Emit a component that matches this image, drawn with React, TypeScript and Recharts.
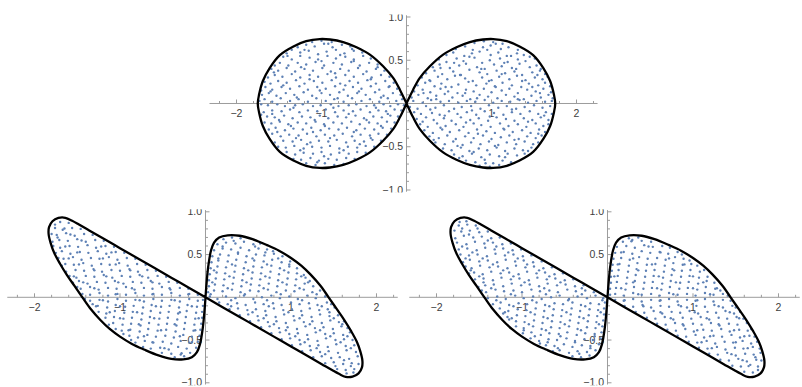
import React from "react";
import { ScatterChart, Scatter, XAxis, YAxis } from "recharts";

type Pt = [number, number];

// Figure-eight outline, traced once around (start/end at the right tip)
const upperOutline: Pt[] = [
  [1.75, 0], [1.735, -0.1], [1.69, -0.26], [1.61, -0.41], [1.49, -0.56], [1.33, -0.66], [1.18, -0.72],
  [1.02, -0.745], [0.9, -0.74], [0.745, -0.71], [0.588, -0.65], [0.431, -0.565], [0.275, -0.43],
  [0.157, -0.296], [0.078, -0.16], [0, 0],
  [-0.078, 0.16], [-0.157, 0.296], [-0.275, 0.43], [-0.431, 0.565], [-0.588, 0.65], [-0.745, 0.71],
  [-0.9, 0.74], [-1.02, 0.745], [-1.18, 0.72], [-1.33, 0.66], [-1.49, 0.56], [-1.61, 0.41], [-1.69, 0.26],
  [-1.735, 0.1], [-1.75, 0],
  [-1.735, -0.1], [-1.69, -0.26], [-1.61, -0.41], [-1.49, -0.56], [-1.33, -0.66], [-1.18, -0.72],
  [-1.02, -0.745], [-0.9, -0.74], [-0.745, -0.71], [-0.588, -0.65], [-0.431, -0.565], [-0.275, -0.43],
  [-0.157, -0.296], [-0.078, -0.16], [0, 0],
  [0.078, 0.16], [0.157, 0.296], [0.275, 0.43], [0.431, 0.565], [0.588, 0.65], [0.745, 0.71], [0.9, 0.74],
  [1.02, 0.745], [1.18, 0.72], [1.33, 0.66], [1.49, 0.56], [1.61, 0.41], [1.69, 0.26], [1.735, 0.1], [1.75, 0],
];

// Sheared figure-eight used by both lower plots
const shearedOutline: Pt[] = [
  [1.44, 0], [1.53, -0.13], [1.62, -0.26], [1.7, -0.39], [1.77, -0.52], [1.81, -0.63], [1.835, -0.74],
  [1.83, -0.82], [1.79, -0.89], [1.72, -0.928], [1.64, -0.93], [1.56, -0.895], [1.48, -0.851], [1.36, -0.782],
  [1.2, -0.69], [1.0, -0.575], [0.8, -0.46], [0.6, -0.345], [0.4, -0.23], [0.2, -0.115], [0, 0],
  [-0.2, 0.115], [-0.4, 0.23], [-0.6, 0.345], [-0.8, 0.46], [-1.0, 0.575], [-1.2, 0.69], [-1.36, 0.782],
  [-1.48, 0.851], [-1.56, 0.895], [-1.64, 0.93], [-1.72, 0.928], [-1.79, 0.89], [-1.83, 0.82], [-1.835, 0.74],
  [-1.81, 0.63], [-1.77, 0.52], [-1.7, 0.39], [-1.62, 0.26], [-1.53, 0.13], [-1.44, 0], [-1.34, -0.14],
  [-1.23, -0.265], [-1.12, -0.37], [-1.0, -0.46], [-0.86, -0.545], [-0.72, -0.61], [-0.55, -0.68],
  [-0.4, -0.72], [-0.26, -0.725], [-0.16, -0.7], [-0.1, -0.64], [-0.065, -0.55], [-0.032, -0.36],
  [-0.012, -0.16], [0, 0],
  [0.012, 0.16], [0.032, 0.36], [0.065, 0.55], [0.1, 0.64], [0.16, 0.7], [0.26, 0.725], [0.4, 0.72],
  [0.55, 0.68], [0.72, 0.61], [0.86, 0.545], [1.0, 0.46], [1.12, 0.37], [1.23, 0.265], [1.34, 0.14], [1.44, 0],
];

const upperDots: Pt[] = [
  [0.8,0.7],[0.91,0.72],[1.02,0.71],[1.13,0.69],
  [0.58,0.63],[0.69,0.66],[0.78,0.62],[0.9,0.65],[0.99,0.67],[1.11,0.63],[1.2,0.65],[1.31,0.62],
  [0.47,0.56],[0.55,0.59],[0.68,0.55],[0.77,0.58],[0.86,0.6],[0.99,0.56],[1.08,0.59],[1.18,0.55],[1.3,0.58],[1.38,0.56],[1.45,0.54],
  [0.38,0.51],[0.47,0.48],[0.59,0.52],[0.67,0.49],[0.8,0.53],[0.89,0.47],[0.98,0.5],[1.1,0.52],[1.19,0.48],[1.31,0.51],[1.4,0.49],[1.51,0.52],
  [0.31,0.42],[0.39,0.45],[0.51,0.41],[0.62,0.44],[0.7,0.46],[0.83,0.42],[0.92,0.4],[1.03,0.45],[1.12,0.43],[1.24,0.41],[1.33,0.46],[1.45,0.42],[1.53,0.44],[1.58,0.4],
  [0.23,0.35],[0.33,0.38],[0.42,0.34],[0.55,0.37],[0.64,0.33],[0.74,0.39],[0.86,0.36],[0.95,0.34],[1.06,0.38],[1.16,0.35],[1.27,0.37],[1.36,0.33],[1.48,0.36],[1.57,0.38],[1.63,0.34],
  [0.18,0.3],[0.27,0.27],[0.37,0.31],[0.48,0.28],[0.57,0.32],[0.69,0.29],[0.78,0.26],[0.89,0.3],[1.0,0.27],[1.09,0.31],[1.21,0.28],[1.3,0.32],[1.4,0.27],[1.51,0.3],[1.6,0.28],[1.66,0.31],
  [0.13,0.21],[0.22,0.24],[0.33,0.2],[0.41,0.23],[0.53,0.19],[0.61,0.22],[0.73,0.25],[0.82,0.21],[0.94,0.23],[1.04,0.2],[1.13,0.24],[1.24,0.21],[1.35,0.19],[1.44,0.23],[1.55,0.21],[1.63,0.24],[1.69,0.2],
  [0.09,0.14],[0.19,0.16],[0.28,0.13],[0.4,0.17],[0.49,0.14],[0.6,0.12],[0.7,0.16],[0.79,0.14],[0.91,0.17],[1.0,0.13],[1.12,0.15],[1.21,0.17],[1.31,0.12],[1.42,0.16],[1.52,0.14],[1.61,0.17],[1.7,0.13],
  [0.06,0.07],[0.14,0.1],[0.25,0.06],[0.35,0.09],[0.45,0.11],[0.54,0.07],[0.66,0.09],[0.75,0.05],[0.86,0.1],[0.96,0.08],[1.07,0.06],[1.17,0.1],[1.27,0.08],[1.38,0.05],[1.47,0.09],[1.58,0.07],[1.67,0.1],[1.72,0.06],
  [0.08,0.03],[0.19,0.01],[0.29,0.04],[0.4,0.02],[0.5,0.03],[0.61,0.01],[0.71,0.03],[0.81,0.02],[0.92,0.04],[1.02,0.01],[1.12,0.03],[1.22,0.02],[1.33,0.04],[1.43,0.01],[1.53,0.03],[1.63,0.02],[1.71,0.03],
  [0.04,-0.04],[0.13,-0.06],[0.23,-0.03],[0.34,-0.05],[0.44,-0.02],[0.56,-0.06],[0.65,-0.04],[0.76,-0.03],[0.87,-0.06],[0.97,-0.02],[1.08,-0.05],[1.18,-0.03],[1.29,-0.06],[1.39,-0.04],[1.5,-0.02],[1.6,-0.05],[1.69,-0.03],
  [0.09,-0.1],[0.17,-0.12],[0.3,-0.11],[0.39,-0.13],[0.5,-0.09],[0.6,-0.12],[0.71,-0.1],[0.82,-0.13],[0.92,-0.09],[1.03,-0.11],[1.14,-0.13],[1.24,-0.1],[1.34,-0.12],[1.45,-0.09],[1.55,-0.12],[1.64,-0.1],[1.71,-0.12],
  [0.12,-0.18],[0.23,-0.16],[0.32,-0.19],[0.44,-0.17],[0.53,-0.2],[0.64,-0.16],[0.75,-0.19],[0.85,-0.17],[0.96,-0.2],[1.06,-0.16],[1.17,-0.18],[1.27,-0.2],[1.38,-0.17],[1.48,-0.19],[1.58,-0.16],[1.67,-0.19],
  [0.16,-0.24],[0.25,-0.27],[0.36,-0.23],[0.46,-0.26],[0.58,-0.24],[0.67,-0.27],[0.79,-0.23],[0.88,-0.25],[0.99,-0.27],[1.1,-0.23],[1.2,-0.26],[1.31,-0.24],[1.41,-0.27],[1.52,-0.23],[1.61,-0.26],[1.67,-0.24],
  [0.21,-0.31],[0.31,-0.34],[0.42,-0.3],[0.51,-0.33],[0.62,-0.31],[0.73,-0.34],[0.83,-0.3],[0.94,-0.32],[1.04,-0.34],[1.15,-0.3],[1.25,-0.33],[1.36,-0.31],[1.46,-0.34],[1.56,-0.3],[1.63,-0.33],
  [0.27,-0.38],[0.38,-0.4],[0.48,-0.37],[0.58,-0.41],[0.69,-0.38],[0.79,-0.4],[0.9,-0.37],[1.0,-0.41],[1.11,-0.39],[1.21,-0.37],[1.32,-0.41],[1.42,-0.38],[1.52,-0.4],[1.59,-0.37],
  [0.34,-0.45],[0.45,-0.47],[0.55,-0.44],[0.66,-0.48],[0.76,-0.45],[0.87,-0.47],[0.97,-0.44],[1.08,-0.48],[1.18,-0.45],[1.29,-0.47],[1.39,-0.44],[1.49,-0.47],[1.55,-0.45],
  [0.43,-0.52],[0.53,-0.54],[0.64,-0.51],[0.74,-0.55],[0.85,-0.52],[0.95,-0.54],[1.06,-0.51],[1.16,-0.55],[1.27,-0.52],[1.37,-0.54],[1.47,-0.51],
  [0.56,-0.59],[0.66,-0.61],[0.77,-0.58],[0.88,-0.62],[0.98,-0.59],[1.09,-0.61],[1.19,-0.58],[1.3,-0.6],[1.39,-0.58],
  [0.7,-0.66],[0.81,-0.68],[0.92,-0.65],[1.02,-0.69],[1.13,-0.66],[1.23,-0.68],
  [0.86,-0.72],[0.98,-0.73],[1.09,-0.71],
  [-0.88,0.71],[-1.0,0.725],[-1.11,0.71],
  [-0.66,0.66],[-0.76,0.68],[-0.87,0.65],[-0.97,0.69],[-1.08,0.66],[-1.18,0.68],[-1.28,0.65],
  [-0.52,0.59],[-0.62,0.61],[-0.73,0.58],[-0.83,0.62],[-0.94,0.6],[-1.04,0.57],[-1.15,0.61],[-1.25,0.59],[-1.35,0.62],[-1.41,0.58],
  [-0.42,0.52],[-0.51,0.55],[-0.62,0.51],[-0.72,0.54],[-0.83,0.52],[-0.93,0.55],[-1.04,0.51],[-1.14,0.53],[-1.25,0.55],[-1.35,0.51],[-1.45,0.54],
  [-0.34,0.45],[-0.44,0.47],[-0.55,0.44],[-0.65,0.48],[-0.76,0.45],[-0.86,0.47],[-0.97,0.44],[-1.07,0.48],[-1.18,0.45],[-1.28,0.47],[-1.39,0.44],[-1.49,0.47],[-1.55,0.44],
  [-0.26,0.38],[-0.36,0.4],[-0.47,0.37],[-0.57,0.41],[-0.68,0.38],[-0.78,0.4],[-0.89,0.37],[-0.99,0.41],[-1.1,0.38],[-1.2,0.4],[-1.31,0.37],[-1.41,0.41],[-1.51,0.38],[-1.59,0.4],
  [-0.2,0.31],[-0.3,0.33],[-0.41,0.3],[-0.51,0.34],[-0.62,0.31],[-0.72,0.33],[-0.83,0.3],[-0.93,0.34],[-1.04,0.31],[-1.14,0.33],[-1.25,0.3],[-1.35,0.34],[-1.46,0.31],[-1.55,0.33],[-1.63,0.3],
  [-0.15,0.24],[-0.25,0.26],[-0.36,0.23],[-0.46,0.27],[-0.57,0.24],[-0.67,0.26],[-0.78,0.23],[-0.88,0.27],[-0.99,0.24],[-1.09,0.26],[-1.2,0.23],[-1.3,0.27],[-1.41,0.24],[-1.51,0.26],[-1.6,0.23],[-1.67,0.25],
  [-0.11,0.17],[-0.21,0.19],[-0.32,0.16],[-0.42,0.2],[-0.53,0.17],[-0.63,0.19],[-0.74,0.16],[-0.84,0.2],[-0.95,0.17],[-1.05,0.19],[-1.16,0.16],[-1.26,0.2],[-1.37,0.17],[-1.47,0.19],[-1.58,0.16],[-1.66,0.19],[-1.71,0.15],
  [-0.07,0.1],[-0.16,0.12],[-0.27,0.09],[-0.37,0.13],[-0.48,0.1],[-0.58,0.12],[-0.69,0.09],[-0.79,0.13],[-0.9,0.1],[-1.0,0.12],[-1.11,0.09],[-1.21,0.13],[-1.32,0.1],[-1.42,0.12],[-1.53,0.09],[-1.62,0.12],[-1.7,0.1],
  [-0.05,0.05],[-0.12,0.03],[-0.22,0.06],[-0.32,0.02],[-0.43,0.05],[-0.53,0.03],[-0.64,0.06],[-0.74,0.02],[-0.85,0.05],[-0.95,0.03],[-1.06,0.06],[-1.16,0.02],[-1.27,0.05],[-1.37,0.03],[-1.48,0.06],[-1.58,0.02],[-1.67,0.05],[-1.73,0.03],
  [-0.03,-0.02],[-0.1,-0.01],[-0.19,-0.03],[-0.27,-0.01],[-0.38,-0.02],[-0.47,-0.03],[-0.59,-0.01],[-0.68,-0.02],[-0.8,-0.03],[-0.89,-0.01],[-1.01,-0.02],[-1.1,-0.03],[-1.22,-0.01],[-1.31,-0.02],[-1.43,-0.03],[-1.52,-0.01],[-1.63,-0.02],[-1.71,-0.01],
  [-0.06,-0.08],[-0.14,-0.07],[-0.24,-0.09],[-0.33,-0.08],[-0.43,-0.1],[-0.54,-0.07],[-0.63,-0.09],[-0.74,-0.08],[-0.84,-0.1],[-0.95,-0.07],[-1.05,-0.09],[-1.16,-0.08],[-1.26,-0.1],[-1.37,-0.07],[-1.47,-0.09],[-1.58,-0.08],[-1.68,-0.1],
  [-0.1,-0.15],[-0.19,-0.14],[-0.29,-0.16],[-0.39,-0.15],[-0.5,-0.17],[-0.6,-0.14],[-0.71,-0.16],[-0.81,-0.15],[-0.92,-0.17],[-1.02,-0.14],[-1.13,-0.16],[-1.23,-0.15],[-1.34,-0.17],[-1.44,-0.14],[-1.55,-0.16],[-1.64,-0.15],[-1.71,-0.13],
  [-0.14,-0.22],[-0.23,-0.21],[-0.34,-0.23],[-0.44,-0.22],[-0.55,-0.24],[-0.65,-0.21],[-0.76,-0.23],[-0.86,-0.22],[-0.97,-0.24],[-1.07,-0.21],[-1.18,-0.23],[-1.28,-0.22],[-1.39,-0.24],[-1.49,-0.21],[-1.59,-0.23],[-1.67,-0.22],
  [-0.18,-0.29],[-0.28,-0.28],[-0.38,-0.3],[-0.49,-0.29],[-0.59,-0.31],[-0.7,-0.28],[-0.8,-0.3],[-0.91,-0.29],[-1.01,-0.31],[-1.12,-0.28],[-1.22,-0.3],[-1.33,-0.29],[-1.43,-0.31],[-1.54,-0.28],[-1.62,-0.3],
  [-0.23,-0.36],[-0.33,-0.35],[-0.43,-0.37],[-0.54,-0.36],[-0.64,-0.38],[-0.75,-0.35],[-0.85,-0.37],[-0.96,-0.36],[-1.06,-0.38],[-1.17,-0.35],[-1.27,-0.37],[-1.38,-0.36],[-1.48,-0.38],[-1.58,-0.35],
  [-0.3,-0.43],[-0.4,-0.42],[-0.5,-0.44],[-0.61,-0.43],[-0.71,-0.45],[-0.82,-0.42],[-0.92,-0.44],[-1.03,-0.43],[-1.13,-0.45],[-1.24,-0.42],[-1.34,-0.44],[-1.45,-0.43],[-1.55,-0.45],
  [-0.38,-0.5],[-0.48,-0.49],[-0.58,-0.51],[-0.69,-0.5],[-0.79,-0.52],[-0.9,-0.49],[-1.0,-0.51],[-1.11,-0.5],[-1.21,-0.52],[-1.32,-0.49],[-1.42,-0.51],[-1.51,-0.5],
  [-0.48,-0.57],[-0.58,-0.56],[-0.68,-0.58],[-0.79,-0.57],[-0.89,-0.59],[-1.0,-0.56],[-1.1,-0.58],[-1.21,-0.57],[-1.31,-0.59],[-1.41,-0.56],
  [-0.61,-0.64],[-0.71,-0.63],[-0.82,-0.65],[-0.92,-0.64],[-1.03,-0.66],[-1.13,-0.63],[-1.24,-0.65],[-1.33,-0.64],
  [-0.74,-0.7],[-0.85,-0.71],[-0.96,-0.69],[-1.07,-0.71],[-1.18,-0.69],
  [0.35,0.05],[0.83,0.06],[1.31,0.05],[1.57,0.12],[0.2,0.12],[0.69,0.12],[1.05,0.19],[0.46,0.19],[1.48,0.19],[0.28,0.26],[0.97,0.26],[1.36,0.26],
  [0.63,0.33],[1.12,0.34],[1.54,0.33],[0.4,0.41],[0.88,0.4],[1.29,0.4],[0.56,0.47],[1.15,0.47],[0.74,0.54],[1.23,0.55],[0.95,0.62],[1.05,0.69],
  [0.28,-0.07],[0.77,-0.08],[1.24,-0.07],[1.62,-0.14],[0.45,-0.14],[0.98,-0.15],[0.19,-0.21],[0.7,-0.22],[1.43,-0.21],[0.4,-0.28],[1.14,-0.29],
  [1.55,-0.35],[0.84,-0.35],[0.32,-0.42],[1.27,-0.42],[0.6,-0.49],[1.04,-0.49],[1.43,-0.55],[0.79,-0.56],[1.16,-0.62],[0.62,-0.63],[0.93,-0.69],
  [-0.3,0.07],[-0.81,0.06],[-1.29,0.07],[-1.6,0.14],[-0.56,0.14],[-1.02,0.15],[-0.2,0.2],[-0.72,0.21],[-1.45,0.21],[-0.42,0.28],[-1.14,0.28],
  [-1.56,0.36],[-0.84,0.35],[-0.34,0.42],[-1.24,0.42],[-0.62,0.49],[-1.0,0.49],[-1.4,0.55],[-0.78,0.56],[-1.2,0.62],[-0.64,0.63],[-0.92,0.69],
  [-0.36,-0.05],[-0.86,-0.05],[-1.33,-0.05],[-1.58,-0.12],[-0.22,-0.12],[-0.68,-0.12],[-1.08,-0.19],[-0.47,-0.19],[-1.5,-0.19],[-0.3,-0.26],[-0.96,-0.26],[-1.36,-0.26],
  [-0.62,-0.33],[-1.1,-0.33],[-1.52,-0.33],[-0.42,-0.4],[-0.9,-0.4],[-1.3,-0.4],[-0.55,-0.47],[-1.17,-0.47],[-0.74,-0.54],[-1.25,-0.54],[-0.97,-0.61],[-1.05,-0.68],
];

const leftDots: Pt[] = [
  [0.21,0.68],[0.31,0.7],[0.41,0.69],
  [0.14,0.62],[0.24,0.64],[0.35,0.63],[0.45,0.65],[0.56,0.62],[0.64,0.63],
  [0.1,0.55],[0.2,0.57],[0.3,0.56],[0.41,0.58],[0.51,0.55],[0.62,0.57],[0.72,0.56],[0.79,0.54],
  [0.08,0.48],[0.17,0.5],[0.27,0.49],[0.38,0.51],[0.48,0.48],[0.59,0.5],[0.69,0.49],[0.8,0.51],[0.9,0.48],
  [0.07,0.41],[0.15,0.43],[0.26,0.42],[0.36,0.44],[0.47,0.41],[0.57,0.43],[0.68,0.42],[0.78,0.44],[0.89,0.41],[0.99,0.42],
  [0.06,0.34],[0.14,0.36],[0.24,0.35],[0.35,0.37],[0.45,0.34],[0.56,0.36],[0.66,0.35],[0.77,0.37],[0.87,0.34],[0.98,0.36],[1.07,0.34],
  [0.05,0.27],[0.13,0.29],[0.23,0.28],[0.34,0.3],[0.44,0.27],[0.55,0.29],[0.65,0.28],[0.76,0.3],[0.86,0.27],[0.97,0.29],[1.07,0.28],[1.15,0.26],
  [0.04,0.2],[0.12,0.22],[0.22,0.21],[0.33,0.23],[0.43,0.2],[0.54,0.22],[0.64,0.21],[0.75,0.23],[0.85,0.2],[0.96,0.22],[1.06,0.21],[1.17,0.23],[1.22,0.19],
  [0.04,0.13],[0.11,0.15],[0.21,0.14],[0.32,0.16],[0.42,0.13],[0.53,0.15],[0.63,0.14],[0.74,0.16],[0.84,0.13],[0.95,0.15],[1.05,0.14],[1.16,0.16],[1.26,0.13],
  [0.03,0.06],[0.1,0.08],[0.2,0.07],[0.31,0.09],[0.41,0.06],[0.52,0.08],[0.62,0.07],[0.73,0.09],[0.83,0.06],[0.94,0.08],[1.04,0.07],[1.15,0.09],[1.25,0.06],[1.34,0.08],
  [0.05,0.01],[0.14,-0.02],[0.24,0.01],[0.35,-0.01],[0.45,0.02],[0.56,-0.02],[0.66,0.0],[0.77,0.02],[0.87,-0.01],[0.98,0.01],[1.08,-0.02],[1.19,0.02],[1.29,-0.01],[1.4,0.01],
  [0.16,-0.06],[0.26,-0.08],[0.37,-0.07],[0.47,-0.09],[0.58,-0.06],[0.68,-0.08],[0.79,-0.07],[0.89,-0.09],[1.0,-0.06],[1.1,-0.08],[1.21,-0.07],[1.31,-0.09],[1.42,-0.06],[1.47,-0.08],
  [0.28,-0.14],[0.38,-0.13],[0.49,-0.15],[0.59,-0.14],[0.7,-0.16],[0.8,-0.13],[0.91,-0.15],[1.01,-0.14],[1.12,-0.16],[1.22,-0.13],[1.33,-0.15],[1.43,-0.14],[1.51,-0.12],
  [0.4,-0.21],[0.5,-0.2],[0.61,-0.22],[0.71,-0.21],[0.82,-0.23],[0.92,-0.2],[1.03,-0.22],[1.13,-0.21],[1.24,-0.23],[1.34,-0.2],[1.45,-0.22],[1.55,-0.21],
  [0.52,-0.28],[0.62,-0.27],[0.73,-0.29],[0.83,-0.28],[0.94,-0.3],[1.04,-0.27],[1.15,-0.29],[1.25,-0.28],[1.36,-0.3],[1.46,-0.27],[1.56,-0.29],[1.62,-0.28],
  [0.65,-0.35],[0.75,-0.34],[0.86,-0.36],[0.96,-0.35],[1.07,-0.37],[1.17,-0.34],[1.28,-0.36],[1.38,-0.35],[1.49,-0.37],[1.59,-0.34],[1.66,-0.36],
  [0.77,-0.42],[0.87,-0.41],[0.98,-0.43],[1.08,-0.42],[1.19,-0.44],[1.29,-0.41],[1.4,-0.43],[1.5,-0.42],[1.61,-0.44],[1.69,-0.41],
  [0.89,-0.49],[0.99,-0.48],[1.1,-0.5],[1.2,-0.49],[1.31,-0.51],[1.41,-0.48],[1.52,-0.5],[1.62,-0.49],[1.72,-0.5],
  [1.01,-0.56],[1.11,-0.55],[1.22,-0.57],[1.32,-0.56],[1.43,-0.58],[1.53,-0.55],[1.64,-0.57],[1.74,-0.56],
  [1.13,-0.63],[1.23,-0.62],[1.34,-0.64],[1.44,-0.63],[1.55,-0.65],[1.65,-0.62],[1.76,-0.64],
  [1.26,-0.7],[1.36,-0.69],[1.47,-0.71],[1.57,-0.7],[1.68,-0.72],[1.78,-0.69],
  [1.4,-0.77],[1.5,-0.76],[1.61,-0.78],[1.71,-0.77],[1.79,-0.78],
  [1.54,-0.84],[1.64,-0.85],[1.74,-0.84],
  [1.65,-0.89],[1.73,-0.88],
  [-0.25,-0.69],[-0.36,-0.7],
  [-0.18,-0.65],[-0.29,-0.67],[-0.4,-0.66],[-0.51,-0.65],
  [-0.11,-0.59],[-0.22,-0.6],[-0.32,-0.58],[-0.43,-0.61],[-0.53,-0.59],[-0.64,-0.6],[-0.73,-0.58],
  [-0.09,-0.52],[-0.19,-0.53],[-0.29,-0.51],[-0.4,-0.54],[-0.5,-0.52],[-0.61,-0.53],[-0.71,-0.51],[-0.82,-0.53],[-0.87,-0.5],
  [-0.07,-0.45],[-0.16,-0.46],[-0.26,-0.44],[-0.37,-0.47],[-0.47,-0.45],[-0.58,-0.46],[-0.68,-0.44],[-0.79,-0.47],[-0.89,-0.45],[-0.96,-0.43],
  [-0.06,-0.38],[-0.14,-0.39],[-0.25,-0.37],[-0.35,-0.4],[-0.46,-0.38],[-0.56,-0.39],[-0.67,-0.37],[-0.77,-0.4],[-0.88,-0.38],[-0.98,-0.39],[-1.05,-0.37],
  [-0.05,-0.31],[-0.13,-0.32],[-0.24,-0.3],[-0.34,-0.33],[-0.45,-0.31],[-0.55,-0.32],[-0.66,-0.3],[-0.76,-0.33],[-0.87,-0.31],[-0.97,-0.32],[-1.08,-0.3],[-1.13,-0.32],
  [-0.04,-0.24],[-0.12,-0.25],[-0.23,-0.23],[-0.33,-0.26],[-0.44,-0.24],[-0.54,-0.25],[-0.65,-0.23],[-0.75,-0.26],[-0.86,-0.24],[-0.96,-0.25],[-1.07,-0.23],[-1.17,-0.24],
  [-0.04,-0.17],[-0.11,-0.18],[-0.22,-0.16],[-0.32,-0.19],[-0.43,-0.17],[-0.53,-0.18],[-0.64,-0.16],[-0.74,-0.19],[-0.85,-0.17],[-0.95,-0.18],[-1.06,-0.16],[-1.16,-0.19],[-1.25,-0.17],
  [-0.03,-0.1],[-0.1,-0.11],[-0.21,-0.09],[-0.31,-0.12],[-0.42,-0.1],[-0.52,-0.11],[-0.63,-0.09],[-0.73,-0.12],[-0.84,-0.1],[-0.94,-0.11],[-1.05,-0.09],[-1.15,-0.12],[-1.26,-0.1],[-1.32,-0.08],
  [-0.03,-0.03],[-0.09,-0.04],[-0.19,-0.02],[-0.3,-0.05],[-0.4,-0.03],[-0.51,-0.04],[-0.61,-0.02],[-0.72,-0.05],[-0.82,-0.03],[-0.93,-0.04],[-1.03,-0.02],[-1.14,-0.05],[-1.24,-0.03],[-1.35,-0.04],[-1.41,-0.02],
  [-0.09,0.03],[-0.19,0.04],[-0.3,0.02],[-0.4,0.05],[-0.51,0.03],[-0.61,0.04],[-0.72,0.02],[-0.82,0.05],[-0.93,0.03],[-1.03,0.04],[-1.14,0.02],[-1.24,0.05],[-1.35,0.03],[-1.44,0.04],
  [-0.2,0.1],[-0.3,0.11],[-0.41,0.09],[-0.51,0.12],[-0.62,0.1],[-0.72,0.11],[-0.83,0.09],[-0.93,0.12],[-1.04,0.1],[-1.14,0.11],[-1.25,0.09],[-1.35,0.12],[-1.46,0.1],[-1.5,0.12],
  [-0.33,0.17],[-0.43,0.18],[-0.54,0.16],[-0.64,0.19],[-0.75,0.17],[-0.85,0.18],[-0.96,0.16],[-1.06,0.19],[-1.17,0.17],[-1.27,0.18],[-1.38,0.16],[-1.48,0.19],[-1.55,0.17],
  [-0.46,0.24],[-0.56,0.25],[-0.67,0.23],[-0.77,0.26],[-0.88,0.24],[-0.98,0.25],[-1.09,0.23],[-1.19,0.26],[-1.3,0.24],[-1.4,0.25],[-1.51,0.23],[-1.59,0.25],
  [-0.58,0.31],[-0.68,0.32],[-0.79,0.3],[-0.89,0.33],[-1.0,0.31],[-1.1,0.32],[-1.21,0.3],[-1.31,0.33],[-1.42,0.31],[-1.52,0.32],[-1.63,0.3],
  [-0.7,0.38],[-0.8,0.39],[-0.91,0.37],[-1.01,0.4],[-1.12,0.38],[-1.22,0.39],[-1.33,0.37],[-1.43,0.4],[-1.54,0.38],[-1.64,0.39],[-1.68,0.37],
  [-0.82,0.45],[-0.92,0.46],[-1.03,0.44],[-1.13,0.47],[-1.24,0.45],[-1.34,0.46],[-1.45,0.44],[-1.55,0.47],[-1.66,0.45],[-1.72,0.46],
  [-0.95,0.52],[-1.05,0.53],[-1.16,0.51],[-1.26,0.54],[-1.37,0.52],[-1.47,0.53],[-1.58,0.51],[-1.68,0.54],[-1.75,0.52],
  [-1.07,0.59],[-1.17,0.6],[-1.28,0.58],[-1.38,0.61],[-1.49,0.59],[-1.59,0.6],[-1.7,0.58],[-1.78,0.6],
  [-1.19,0.66],[-1.29,0.67],[-1.4,0.65],[-1.5,0.68],[-1.61,0.66],[-1.71,0.67],[-1.79,0.65],
  [-1.32,0.73],[-1.42,0.74],[-1.53,0.72],[-1.63,0.75],[-1.74,0.73],[-1.8,0.74],
  [-1.46,0.8],[-1.56,0.81],[-1.67,0.79],[-1.76,0.81],
  [-1.6,0.87],[-1.7,0.88],[-1.76,0.85],
  [0.33,0.66],[0.2,0.595],[0.58,0.595],[0.38,0.525],[0.7,0.525],[0.15,0.455],[0.55,0.455],[0.85,0.455],[0.31,0.385],[0.72,0.385],[0.98,0.385],
  [0.1,0.315],[0.5,0.315],[0.92,0.315],[0.28,0.245],[0.7,0.245],[1.12,0.245],[0.08,0.175],[0.48,0.175],[0.9,0.175],[1.2,0.175],[0.26,0.105],
  [0.68,0.105],[1.1,0.105],[0.06,0.035],[0.46,0.035],[0.88,0.035],[1.3,0.035],[0.3,-0.035],[0.72,-0.035],[1.13,-0.035],[0.3,-0.105],[0.74,-0.105],
  [1.36,-0.105],[0.55,-0.175],[0.97,-0.175],[1.45,-0.175],[0.68,-0.245],[1.1,-0.245],[1.5,-0.245],[0.8,-0.315],[1.22,-0.315],[1.6,-0.315],
  [0.94,-0.385],[1.34,-0.385],[1.05,-0.455],[1.46,-0.455],[1.66,-0.455],[1.16,-0.525],[1.58,-0.525],[1.3,-0.595],[1.7,-0.595],[1.4,-0.665],
  [1.62,-0.735],[1.52,-0.805],[1.7,-0.805],
  [-0.28,-0.655],[-0.48,-0.595],[-0.16,-0.525],[-0.62,-0.525],[-0.3,-0.455],[-0.72,-0.455],[-0.12,-0.385],[-0.52,-0.385],[-0.9,-0.385],
  [-0.36,-0.315],[-0.78,-0.315],[-0.08,-0.245],[-0.6,-0.245],[-1.0,-0.245],[-0.3,-0.175],[-0.8,-0.175],[-1.12,-0.175],[-0.16,-0.105],
  [-0.58,-0.105],[-1.0,-0.105],[-1.28,-0.105],[-0.36,-0.035],[-0.77,-0.035],[-1.2,-0.035],[-0.2,0.035],[-0.62,0.035],[-1.05,0.035],
  [-0.42,0.105],[-0.86,0.105],[-1.3,0.105],[-0.62,0.175],[-1.02,0.175],[-1.43,0.175],[-0.74,0.245],[-1.16,0.245],[-1.54,0.245],[-0.88,0.315],
  [-1.3,0.315],[-1.05,0.385],[-1.48,0.385],[-1.2,0.455],[-1.6,0.455],[-1.1,0.525],[-1.5,0.525],[-1.22,0.595],[-1.64,0.595],[-1.45,0.665],
  [-1.73,0.7],[-1.58,0.735],[-1.65,0.805],
];

const rightDots: Pt[] = [
  [0.25,0.69],[0.36,0.7],
  [0.18,0.65],[0.29,0.67],[0.4,0.66],[0.51,0.65],
  [0.11,0.59],[0.22,0.6],[0.32,0.58],[0.43,0.61],[0.53,0.59],[0.64,0.6],[0.73,0.58],
  [0.09,0.52],[0.19,0.53],[0.29,0.51],[0.4,0.54],[0.5,0.52],[0.61,0.53],[0.71,0.51],[0.82,0.53],[0.87,0.5],
  [0.07,0.45],[0.16,0.46],[0.26,0.44],[0.37,0.47],[0.47,0.45],[0.58,0.46],[0.68,0.44],[0.79,0.47],[0.89,0.45],[0.96,0.43],
  [0.06,0.38],[0.14,0.39],[0.25,0.37],[0.35,0.4],[0.46,0.38],[0.56,0.39],[0.67,0.37],[0.77,0.4],[0.88,0.38],[0.98,0.39],[1.05,0.37],
  [0.05,0.31],[0.13,0.32],[0.24,0.3],[0.34,0.33],[0.45,0.31],[0.55,0.32],[0.66,0.3],[0.76,0.33],[0.87,0.31],[0.97,0.32],[1.08,0.3],[1.13,0.32],
  [0.04,0.24],[0.12,0.25],[0.23,0.23],[0.33,0.26],[0.44,0.24],[0.54,0.25],[0.65,0.23],[0.75,0.26],[0.86,0.24],[0.96,0.25],[1.07,0.23],[1.17,0.24],
  [0.04,0.17],[0.11,0.18],[0.22,0.16],[0.32,0.19],[0.43,0.17],[0.53,0.18],[0.64,0.16],[0.74,0.19],[0.85,0.17],[0.95,0.18],[1.06,0.16],[1.16,0.19],[1.25,0.17],
  [0.03,0.1],[0.1,0.11],[0.21,0.09],[0.31,0.12],[0.42,0.1],[0.52,0.11],[0.63,0.09],[0.73,0.12],[0.84,0.1],[0.94,0.11],[1.05,0.09],[1.15,0.12],[1.26,0.1],[1.32,0.08],
  [0.03,0.03],[0.09,0.04],[0.19,0.02],[0.3,0.05],[0.4,0.03],[0.51,0.04],[0.61,0.02],[0.72,0.05],[0.82,0.03],[0.93,0.04],[1.03,0.02],[1.14,0.05],[1.24,0.03],[1.35,0.04],[1.41,0.02],
  [0.09,-0.03],[0.19,-0.04],[0.3,-0.02],[0.4,-0.05],[0.51,-0.03],[0.61,-0.04],[0.72,-0.02],[0.82,-0.05],[0.93,-0.03],[1.03,-0.04],[1.14,-0.02],[1.24,-0.05],[1.35,-0.03],[1.44,-0.04],
  [0.2,-0.1],[0.3,-0.11],[0.41,-0.09],[0.51,-0.12],[0.62,-0.1],[0.72,-0.11],[0.83,-0.09],[0.93,-0.12],[1.04,-0.1],[1.14,-0.11],[1.25,-0.09],[1.35,-0.12],[1.46,-0.1],[1.5,-0.12],
  [0.33,-0.17],[0.43,-0.18],[0.54,-0.16],[0.64,-0.19],[0.75,-0.17],[0.85,-0.18],[0.96,-0.16],[1.06,-0.19],[1.17,-0.17],[1.27,-0.18],[1.38,-0.16],[1.48,-0.19],[1.55,-0.17],
  [0.46,-0.24],[0.56,-0.25],[0.67,-0.23],[0.77,-0.26],[0.88,-0.24],[0.98,-0.25],[1.09,-0.23],[1.19,-0.26],[1.3,-0.24],[1.4,-0.25],[1.51,-0.23],[1.59,-0.25],
  [0.58,-0.31],[0.68,-0.32],[0.79,-0.3],[0.89,-0.33],[1.0,-0.31],[1.1,-0.32],[1.21,-0.3],[1.31,-0.33],[1.42,-0.31],[1.52,-0.32],[1.63,-0.3],
  [0.7,-0.38],[0.8,-0.39],[0.91,-0.37],[1.01,-0.4],[1.12,-0.38],[1.22,-0.39],[1.33,-0.37],[1.43,-0.4],[1.54,-0.38],[1.64,-0.39],[1.68,-0.37],
  [0.82,-0.45],[0.92,-0.46],[1.03,-0.44],[1.13,-0.47],[1.24,-0.45],[1.34,-0.46],[1.45,-0.44],[1.55,-0.47],[1.66,-0.45],[1.72,-0.46],
  [0.95,-0.52],[1.05,-0.53],[1.16,-0.51],[1.26,-0.54],[1.37,-0.52],[1.47,-0.53],[1.58,-0.51],[1.68,-0.54],[1.75,-0.52],
  [1.07,-0.59],[1.17,-0.6],[1.28,-0.58],[1.38,-0.61],[1.49,-0.59],[1.59,-0.6],[1.7,-0.58],[1.78,-0.6],
  [1.19,-0.66],[1.29,-0.67],[1.4,-0.65],[1.5,-0.68],[1.61,-0.66],[1.71,-0.67],[1.79,-0.65],
  [1.32,-0.73],[1.42,-0.74],[1.53,-0.72],[1.63,-0.75],[1.74,-0.73],[1.8,-0.74],
  [1.46,-0.8],[1.56,-0.81],[1.67,-0.79],[1.76,-0.81],
  [1.6,-0.87],[1.7,-0.88],[1.76,-0.85],
  [-0.21,-0.68],[-0.31,-0.7],[-0.41,-0.69],
  [-0.14,-0.62],[-0.24,-0.64],[-0.35,-0.63],[-0.45,-0.65],[-0.56,-0.62],[-0.64,-0.63],
  [-0.1,-0.55],[-0.2,-0.57],[-0.3,-0.56],[-0.41,-0.58],[-0.51,-0.55],[-0.62,-0.57],[-0.72,-0.56],[-0.79,-0.54],
  [-0.08,-0.48],[-0.17,-0.5],[-0.27,-0.49],[-0.38,-0.51],[-0.48,-0.48],[-0.59,-0.5],[-0.69,-0.49],[-0.8,-0.51],[-0.9,-0.48],
  [-0.07,-0.41],[-0.15,-0.43],[-0.26,-0.42],[-0.36,-0.44],[-0.47,-0.41],[-0.57,-0.43],[-0.68,-0.42],[-0.78,-0.44],[-0.89,-0.41],[-0.99,-0.42],
  [-0.06,-0.34],[-0.14,-0.36],[-0.24,-0.35],[-0.35,-0.37],[-0.45,-0.34],[-0.56,-0.36],[-0.66,-0.35],[-0.77,-0.37],[-0.87,-0.34],[-0.98,-0.36],[-1.07,-0.34],
  [-0.05,-0.27],[-0.13,-0.29],[-0.23,-0.28],[-0.34,-0.3],[-0.44,-0.27],[-0.55,-0.29],[-0.65,-0.28],[-0.76,-0.3],[-0.86,-0.27],[-0.97,-0.29],[-1.07,-0.28],[-1.15,-0.26],
  [-0.04,-0.2],[-0.12,-0.22],[-0.22,-0.21],[-0.33,-0.23],[-0.43,-0.2],[-0.54,-0.22],[-0.64,-0.21],[-0.75,-0.23],[-0.85,-0.2],[-0.96,-0.22],[-1.06,-0.21],[-1.17,-0.23],[-1.22,-0.19],
  [-0.04,-0.13],[-0.11,-0.15],[-0.21,-0.14],[-0.32,-0.16],[-0.42,-0.13],[-0.53,-0.15],[-0.63,-0.14],[-0.74,-0.16],[-0.84,-0.13],[-0.95,-0.15],[-1.05,-0.14],[-1.16,-0.16],[-1.26,-0.13],
  [-0.03,-0.06],[-0.1,-0.08],[-0.2,-0.07],[-0.31,-0.09],[-0.41,-0.06],[-0.52,-0.08],[-0.62,-0.07],[-0.73,-0.09],[-0.83,-0.06],[-0.94,-0.08],[-1.04,-0.07],[-1.15,-0.09],[-1.25,-0.06],[-1.34,-0.08],
  [-0.05,-0.01],[-0.14,0.02],[-0.24,-0.01],[-0.35,0.01],[-0.45,-0.02],[-0.56,0.02],[-0.66,0.0],[-0.77,-0.02],[-0.87,0.01],[-0.98,-0.01],[-1.08,0.02],[-1.19,-0.02],[-1.29,0.01],[-1.4,-0.01],
  [-0.16,0.06],[-0.26,0.08],[-0.37,0.07],[-0.47,0.09],[-0.58,0.06],[-0.68,0.08],[-0.79,0.07],[-0.89,0.09],[-1.0,0.06],[-1.1,0.08],[-1.21,0.07],[-1.31,0.09],[-1.42,0.06],[-1.47,0.08],
  [-0.28,0.14],[-0.38,0.13],[-0.49,0.15],[-0.59,0.14],[-0.7,0.16],[-0.8,0.13],[-0.91,0.15],[-1.01,0.14],[-1.12,0.16],[-1.22,0.13],[-1.33,0.15],[-1.43,0.14],[-1.51,0.12],
  [-0.4,0.21],[-0.5,0.2],[-0.61,0.22],[-0.71,0.21],[-0.82,0.23],[-0.92,0.2],[-1.03,0.22],[-1.13,0.21],[-1.24,0.23],[-1.34,0.2],[-1.45,0.22],[-1.55,0.21],
  [-0.52,0.28],[-0.62,0.27],[-0.73,0.29],[-0.83,0.28],[-0.94,0.3],[-1.04,0.27],[-1.15,0.29],[-1.25,0.28],[-1.36,0.3],[-1.46,0.27],[-1.56,0.29],[-1.62,0.28],
  [-0.65,0.35],[-0.75,0.34],[-0.86,0.36],[-0.96,0.35],[-1.07,0.37],[-1.17,0.34],[-1.28,0.36],[-1.38,0.35],[-1.49,0.37],[-1.59,0.34],[-1.66,0.36],
  [-0.77,0.42],[-0.87,0.41],[-0.98,0.43],[-1.08,0.42],[-1.19,0.44],[-1.29,0.41],[-1.4,0.43],[-1.5,0.42],[-1.61,0.44],[-1.69,0.41],
  [-0.89,0.49],[-0.99,0.48],[-1.1,0.5],[-1.2,0.49],[-1.31,0.51],[-1.41,0.48],[-1.52,0.5],[-1.62,0.49],[-1.72,0.5],
  [-1.01,0.56],[-1.11,0.55],[-1.22,0.57],[-1.32,0.56],[-1.43,0.58],[-1.53,0.55],[-1.64,0.57],[-1.74,0.56],
  [-1.13,0.63],[-1.23,0.62],[-1.34,0.64],[-1.44,0.63],[-1.55,0.65],[-1.65,0.62],[-1.76,0.64],
  [-1.26,0.7],[-1.36,0.69],[-1.47,0.71],[-1.57,0.7],[-1.68,0.72],[-1.78,0.69],
  [-1.4,0.77],[-1.5,0.76],[-1.61,0.78],[-1.71,0.77],[-1.79,0.78],
  [-1.54,0.84],[-1.64,0.85],[-1.74,0.84],
  [-1.65,0.89],[-1.73,0.88],
  [0.28,0.655],[0.48,0.595],[0.16,0.525],[0.62,0.525],[0.3,0.455],[0.72,0.455],[0.12,0.385],[0.52,0.385],[0.9,0.385],
  [0.36,0.315],[0.78,0.315],[0.08,0.245],[0.6,0.245],[1.0,0.245],[0.3,0.175],[0.8,0.175],[1.12,0.175],[0.16,0.105],
  [0.58,0.105],[1.0,0.105],[1.28,0.105],[0.36,0.035],[0.77,0.035],[1.2,0.035],[0.2,-0.035],[0.62,-0.035],[1.05,-0.035],
  [0.42,-0.105],[0.86,-0.105],[1.3,-0.105],[0.62,-0.175],[1.02,-0.175],[1.43,-0.175],[0.74,-0.245],[1.16,-0.245],[1.54,-0.245],[0.88,-0.315],
  [1.3,-0.315],[1.05,-0.385],[1.48,-0.385],[1.2,-0.455],[1.6,-0.455],[1.1,-0.525],[1.5,-0.525],[1.22,-0.595],[1.64,-0.595],[1.45,-0.665],
  [1.73,-0.7],[1.58,-0.735],[1.65,-0.805],
  [-0.33,-0.66],[-0.2,-0.595],[-0.58,-0.595],[-0.38,-0.525],[-0.7,-0.525],[-0.15,-0.455],[-0.55,-0.455],[-0.85,-0.455],[-0.31,-0.385],[-0.72,-0.385],[-0.98,-0.385],
  [-0.1,-0.315],[-0.5,-0.315],[-0.92,-0.315],[-0.28,-0.245],[-0.7,-0.245],[-1.12,-0.245],[-0.08,-0.175],[-0.48,-0.175],[-0.9,-0.175],[-1.2,-0.175],[-0.26,-0.105],
  [-0.68,-0.105],[-1.1,-0.105],[-0.06,-0.035],[-0.46,-0.035],[-0.88,-0.035],[-1.3,-0.035],[-0.3,0.035],[-0.72,0.035],[-1.13,0.035],[-0.3,0.105],[-0.74,0.105],
  [-1.36,0.105],[-0.55,0.175],[-0.97,0.175],[-1.45,0.175],[-0.68,0.245],[-1.1,0.245],[-1.5,0.245],[-0.8,0.315],[-1.22,0.315],[-1.6,0.315],
  [-0.94,0.385],[-1.34,0.385],[-1.05,0.455],[-1.46,0.455],[-1.66,0.455],[-1.16,0.525],[-1.58,0.525],[-1.3,0.595],[-1.7,0.595],[-1.4,0.665],
  [-1.62,0.735],[-1.52,0.805],[-1.7,0.805],
];

// axis ticks and labels
const xMajor = [-2, -1, 1, 2];
const xMajorText = ["−2", "−1", "1", "2"];
const xMinor = [-2.2, -1.8, -1.6, -1.4, -1.2, -0.8, -0.6, -0.4, -0.2, 0.2, 0.4, 0.6, 0.8, 1.2, 1.4, 1.6, 1.8, 2.2];
const yMajor = [-1, -0.5, 0.5, 1];
const yMajorText = ["−1.0", "−0.5", "0.5", "1.0"];
const yMinor = [-0.9, -0.8, -0.7, -0.6, -0.4, -0.3, -0.2, -0.1, 0.1, 0.2, 0.3, 0.4, 0.6, 0.7, 0.8, 0.9];

const xRange: [number, number] = [-2.32, 2.25];
const yRange: [number, number] = [-1.03, 1.03];
const yAxisSpan: [number, number] = [-1.02, 1.02];

const DOT = "#5e81b5";
const AXIS = "#9c9c9c";
const LABEL = "#3d3d3d";
const FONT = "'Liberation Sans', Arial, sans-serif";

const toRows = (pts: Pt[]) => pts.map(([x, y]) => ({ x, y }));

const xAxisLine = [{ x: xRange[0], y: 0 }, { x: xRange[1], y: 0 }];
const yAxisLine = [{ x: 0, y: yAxisSpan[0] }, { x: 0, y: yAxisSpan[1] }];

const xTicks = [
  ...xMajor.map((x, i) => ({ x, y: 0, major: true, text: xMajorText[i] })),
  ...xMinor.map((x) => ({ x, y: 0, major: false, text: "" })),
];
const yTicks = [
  ...yMajor.map((y, i) => ({ x: 0, y, major: true, text: yMajorText[i] })),
  ...yMinor.map((y) => ({ x: 0, y, major: false, text: "" })),
];

type XY = { x: number; y: number };

// closed centripetal Catmull-Rom through the projected outline points
function smoothClosed(pts: XY[]) {
  const p = pts.slice(0, -1);
  const n = p.length;
  const root = (a: XY, b: XY) => Math.sqrt(Math.hypot(b.x - a.x, b.y - a.y));
  let d = `M${p[0].x},${p[0].y}`;
  for (let i = 0; i < n; i++) {
    const p0 = p[(i - 1 + n) % n];
    const p1 = p[i];
    const p2 = p[(i + 1) % n];
    const p3 = p[(i + 2) % n];
    const l01 = root(p0, p1);
    const l12 = root(p1, p2);
    const l23 = root(p2, p3);
    let c1x = p1.x, c1y = p1.y, c2x = p2.x, c2y = p2.y;
    if (l01 > 1e-6) {
      const a = 2 * l01 * l01 + 3 * l01 * l12 + l12 * l12;
      const m = 3 * l01 * (l01 + l12);
      c1x = (p1.x * a - p0.x * l12 * l12 + p2.x * l01 * l01) / m;
      c1y = (p1.y * a - p0.y * l12 * l12 + p2.y * l01 * l01) / m;
    }
    if (l23 > 1e-6) {
      const b = 2 * l23 * l23 + 3 * l23 * l12 + l12 * l12;
      const m = 3 * l23 * (l23 + l12);
      c2x = (p2.x * b + p1.x * l23 * l23 - p3.x * l12 * l12) / m;
      c2y = (p2.y * b + p1.y * l23 * l23 - p3.y * l12 * l12) / m;
    }
    d += ` C${c1x},${c1y} ${c2x},${c2y} ${p2.x},${p2.y}`;
  }
  return d + " Z";
}

const OutlinePath = (props: any) => (
  <path d={smoothClosed(props.points)} fill="none" stroke="#000" strokeWidth={2.3} strokeLinejoin="round" />
);

const Nothing = () => <g />;

const XTick = (props: any) => {
  const { cx, cy, payload } = props;
  const len = payload.major ? 4 : 2.5;
  return (
    <g>
      <line x1={cx} y1={cy} x2={cx} y2={cy - len} stroke={AXIS} strokeWidth={1} />
      {payload.text && (
        <text x={cx} y={cy + 13.5} textAnchor="middle" fontSize={10.5} fontFamily={FONT} fill={LABEL}>
          {payload.text}
        </text>
      )}
    </g>
  );
};

const YTick = (props: any) => {
  const { cx, cy, payload } = props;
  const len = payload.major ? 4 : 2.5;
  return (
    <g>
      <line x1={cx} y1={cy} x2={cx + len} y2={cy} stroke={AXIS} strokeWidth={1} />
      {payload.text && (
        <text x={cx - 3.5} y={cy + 3.6} textAnchor="end" fontSize={10.5} fontFamily={FONT} fill={LABEL}>
          {payload.text}
        </text>
      )}
    </g>
  );
};

const Dot = (props: any) => <circle cx={props.cx} cy={props.cy} r={1.2} fill={DOT} />;

interface PanelProps {
  ox: number;
  oy: number;
  sx: number;
  sy: number;
  outline: Pt[];
  dots: Pt[];
}

function Panel({ ox, oy, sx, sy, outline, dots }: PanelProps) {
  const plotLeft = ox + xRange[0] * sx;
  const plotTop = oy - yRange[1] * sy;
  const left = Math.floor(plotLeft - 32);
  const top = Math.floor(plotTop - 10);
  const margin = { left: plotLeft - left, top: plotTop - top, right: 8, bottom: 22 };
  const width = margin.left + (xRange[1] - xRange[0]) * sx + margin.right;
  const height = margin.top + (yRange[1] - yRange[0]) * sy + margin.bottom;

  return (
    <div style={{ position: "absolute", left, top }}>
      <ScatterChart width={width} height={height} margin={margin}>
        <XAxis type="number" dataKey="x" domain={xRange} allowDataOverflow hide />
        <YAxis type="number" dataKey="y" domain={yRange} allowDataOverflow hide />
        <Scatter data={xAxisLine} line={{ stroke: AXIS, strokeWidth: 1 }} shape={Nothing} isAnimationActive={false} />
        <Scatter data={yAxisLine} line={{ stroke: AXIS, strokeWidth: 1 }} shape={Nothing} isAnimationActive={false} />
        <Scatter data={xTicks} shape={XTick} isAnimationActive={false} />
        <Scatter data={yTicks} shape={YTick} isAnimationActive={false} />
        <Scatter data={toRows(dots)} shape={Dot} isAnimationActive={false} />
        <Scatter data={toRows(outline)} line={OutlinePath} shape={Nothing} isAnimationActive={false} />
      </ScatterChart>
    </div>
  );
}

export default function App() {
  return (
    <div
      style={{
        position: "absolute",
        left: 0,
        top: 0,
        width: 802,
        height: 387,
        overflow: "hidden",
        background: "#fff",
      }}
    >
      <Panel ox={406.5} oy={103.5} sx={85} sy={86.5} outline={upperOutline} dots={upperDots} />
      <Panel ox={205.5} oy={297.3} sx={85.5} sy={85.5} outline={shearedOutline} dots={leftDots} />
      <Panel ox={607.5} oy={297.3} sx={85.5} sy={85.5} outline={shearedOutline} dots={rightDots} />
    </div>
  );
}
